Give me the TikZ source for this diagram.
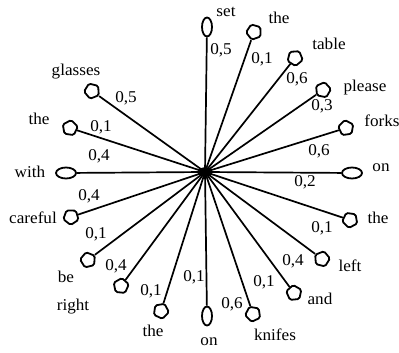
\documentclass[tikz,border=0pt]{standalone}
\usepackage{fontspec}
\setmainfont[FakeStretch=1.04]{Liberation Serif}
\usetikzlibrary{shapes.geometric}
\begin{document}
\begin{tikzpicture}[x=1pt,y=-1pt,
  spoke/.style={line width=1.7pt},
  ring/.style={draw, ellipse, line width=1.8pt, inner sep=0pt},
  vring/.style={ring, minimum width=10pt, minimum height=19pt},
  hring/.style={ring, minimum width=20pt, minimum height=11pt},
  blob/.style={draw, regular polygon, regular polygon sides=5, rounded corners=1.6pt,
    line width=1.8pt, inner sep=0pt, minimum size=16pt},
  hub/.style={ellipse, fill=black, minimum width=15pt, minimum height=9pt, inner sep=0pt},
  word/.style={font=\fontsize{16.5}{18}\selectfont, inner sep=0pt},
  wt/.style={font=\fontsize{16.5}{18}\selectfont, inner sep=0pt}]
\useasboundingbox (0,0) rectangle (399,353);
% hub
\node[hub] (c) at (205,172) {};
% end shapes
\node[vring] (s1) at (207,27) {};
\node[blob, shape border rotate=20] (s2) at (254,32) {};
\node[blob, shape border rotate=40] (s3) at (295,58) {};
\node[blob, shape border rotate=60] (s4) at (323,90) {};
\node[blob, shape border rotate=80] (s5) at (346,128) {};
\node[hring] (s6) at (352,173) {};
\node[blob, shape border rotate=100] (s7) at (350,220) {};
\node[blob, shape border rotate=130] (s8) at (322,259) {};
\node[blob, shape border rotate=150] (s9) at (294,293) {};
\node[blob, shape border rotate=170] (s10) at (253,314) {};
\node[vring] (s11) at (207,316) {};
\node[blob, shape border rotate=190] (s12) at (161,311) {};
\node[blob, shape border rotate=210] (s13) at (121,286) {};
\node[blob, shape border rotate=230] (s14) at (88,260) {};
\node[blob, shape border rotate=250] (s15) at (71,217) {};
\node[hring] (s16) at (66,173) {};
\node[blob, shape border rotate=280] (s17) at (70,128) {};
\node[blob, shape border rotate=310] (s18) at (92,91) {};
% spokes
\foreach \i in {1,...,18} \draw[spoke] (c.center) -- (s\i);
\node[hub] at (c) {};
% words
\node[word] (w1) at (226,12) {set};
\node[word] (w2) at (279,18) {the};
\node[word] (w3) at (329,44) {table};
\node[word] (w4) at (365,88) {please};
\node[word] (w5) at (382,121) {forks};
\node[word] (w6) at (381,168) {on};
\node[word] (w7) at (378,218) {the};
\node[word] (w8) at (350,266) {left};
\node[word] (w9) at (320,299) {and};
\node[word] (w10) at (275,335) {knifes};
\node[word] (w11) at (209,342) {on};
\node[word] (w12) at (153,331) {the};
\node[word] (w13) at (73,307) {right};
\node[word] (w14) at (66,277) {be};
\node[word] (w15) at (33,218) {careful};
\node[word] (w16) at (30,172) {with};
\node[word] (w17) at (39,119) {the};
\node[word] (w18) at (76,72) {glasses};
% weights
\node[wt] (l1) at (221,50) {0,5};
\node[wt] (l2) at (262,59) {0,1};
\node[wt] (l3) at (297,79) {0,6};
\node[wt] (l4) at (322,106) {0,3};
\node[wt] (l5) at (319,151) {0,6};
\node[wt] (l6) at (305,182) {0,2};
\node[wt] (l7) at (322,228) {0,1};
\node[wt] (l8) at (293,261) {0,4};
\node[wt] (l9) at (264,282) {0,1};
\node[wt] (l10) at (232,304) {0,6};
\node[wt] (l11) at (194,277) {0,1};
\node[wt] (l12) at (151,291) {0,1};
\node[wt] (l13) at (116,266) {0,4};
\node[wt] (l14) at (96,234) {0,1};
\node[wt] (l15) at (89,196) {0,4};
\node[wt] (l16) at (99,156) {0,4};
\node[wt] (l17) at (101,127) {0,1};
\node[wt] (l18) at (126,98) {0,5};
\end{tikzpicture}
\end{document}
